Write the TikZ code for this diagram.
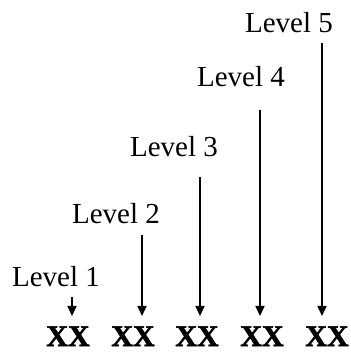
\documentclass[tikz,border=0pt]{standalone}
\usepackage{fontspec}
\setmainfont{Liberation Serif}
\newfontfamily\heavyfont{Liberation Serif Bold}[FakeBold=2]
\usepackage{tikz}
\usetikzlibrary{arrows.meta}

\begin{document}
\begin{tikzpicture}[x=1pt, y=1pt,
    level/.style={font=\fontsize{29}{34}\selectfont, inner sep=0pt, anchor=base east},
    word/.style={font=\heavyfont\fontsize{30}{36}\selectfont, inner sep=0pt, anchor=base},
    down/.style={-{Triangle[width=9pt, length=10pt]}, line width=1.6pt}]
    \useasboundingbox (0,0) rectangle (351,354);

    % Words
    \node[word] (x1) at (68,8) {XX};
    \node[word] (x2) at (133,8) {XX};
    \node[word] (x3) at (197,8) {XX};
    \node[word] (x4) at (262,8) {XX};
    \node[word] (x5) at (327,8) {XX};

    % Level labels
    \node[level] (l1) at (100,67) {Level 1};
    \node[level] (l2) at (160,130) {Level 2};
    \node[level] (l3) at (218,197) {Level 3};
    \node[level] (l4) at (285,267) {Level 4};
    \node[level] (l5) at (333,321) {Level 5};

    % Arrow ends
    \coordinate (s1) at (72,57);
    \coordinate (s2) at (142,119);
    \coordinate (s3) at (200,177);
    \coordinate (s4) at (260,244);
    \coordinate (s5) at (322,311);
    \coordinate (e1) at (72,38);
    \coordinate (e2) at (142,38);
    \coordinate (e3) at (200,38);
    \coordinate (e4) at (260,38);
    \coordinate (e5) at (322,38);

    % Arrows
    \draw[down] (s1) -- (e1);
    \draw[down] (s2) -- (e2);
    \draw[down] (s3) -- (e3);
    \draw[down] (s4) -- (e4);
    \draw[down] (s5) -- (e5);
\end{tikzpicture}
\end{document}
